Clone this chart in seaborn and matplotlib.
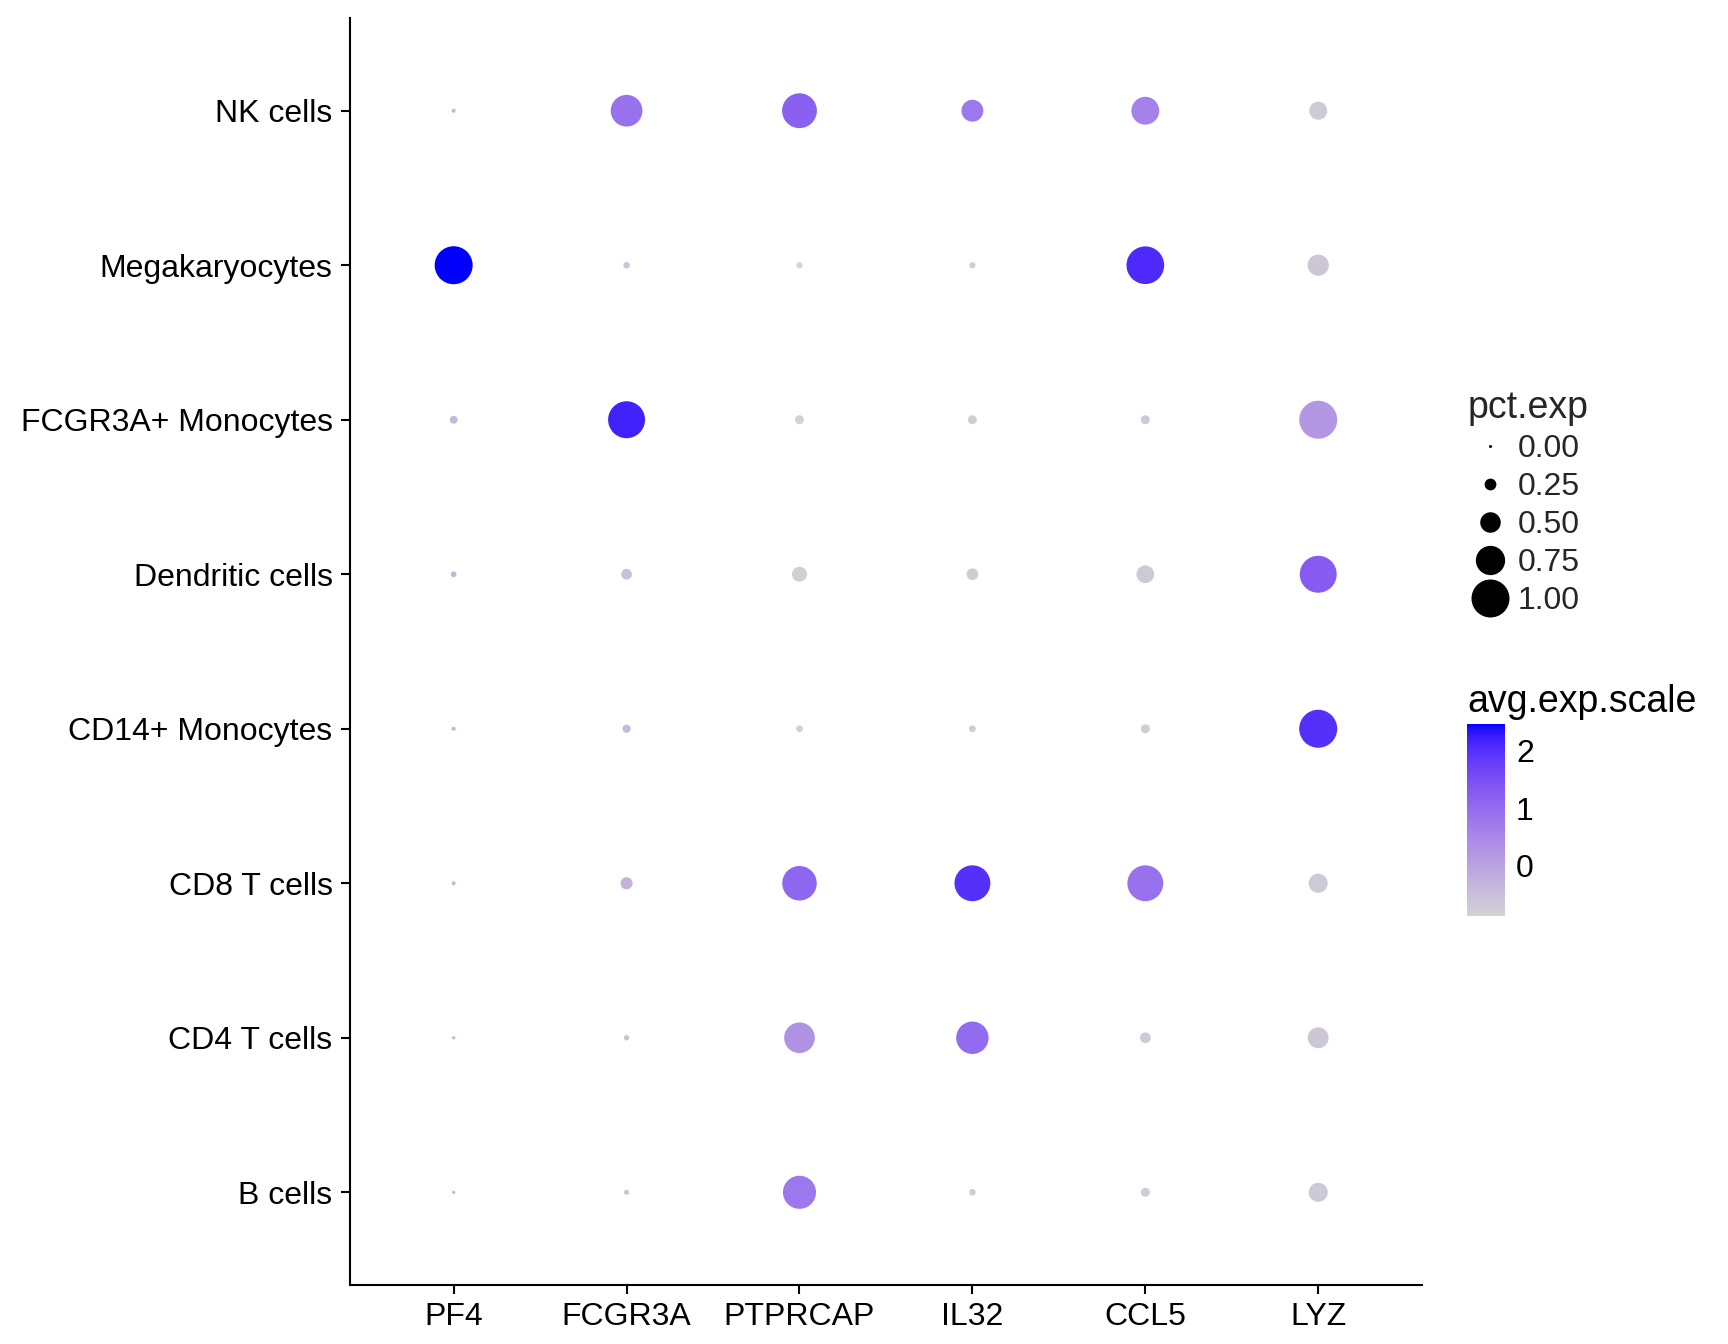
import numpy as np
import pandas as pd
import matplotlib
matplotlib.use("Agg")
import matplotlib.pyplot as plt
from matplotlib.colors import LinearSegmentedColormap, Normalize
from matplotlib.cm import ScalarMappable
from matplotlib.lines import Line2D
import seaborn as sns

# ---------------- data ----------------
genes = ["PF4", "FCGR3A", "PTPRCAP", "IL32", "CCL5", "LYZ"]
cell_types = ["B cells", "CD4 T cells", "CD8 T cells", "CD14+ Monocytes",
              "Dendritic cells", "FCGR3A+ Monocytes", "Megakaryocytes", "NK cells"]

pct_b      = [0.01, 0.06, 0.86, 0.10, 0.17, 0.46]
pct_cd4    = [0.01, 0.07, 0.79, 0.84, 0.22, 0.51]
pct_cd8    = [0.03, 0.26, 0.90, 0.94, 0.94, 0.46]
pct_cd14   = [0.03, 0.15, 0.11, 0.11, 0.17, 1.00]
pct_dc     = [0.08, 0.22, 0.34, 0.25, 0.42, 0.97]
pct_fcgr   = [0.14, 0.97, 0.17, 0.17, 0.17, 1.00]
pct_mega   = [1.00, 0.10, 0.09, 0.09, 0.99, 0.52]
pct_nk     = [0.03, 0.82, 0.91, 0.54, 0.71, 0.43]

exp_b      = [-0.353, -0.60, 0.80, -0.76, -0.75, -0.70]
exp_cd4    = [-0.353, -0.60, 0.30, 1.00, -0.70, -0.65]
exp_cd8    = [-0.353, -0.30, 1.10, 2.00, 0.90, -0.70]
exp_cd14   = [-0.353, -0.45, -0.85, -0.76, -0.75, 2.00]
exp_dc     = [-0.353, -0.55, -0.80, -0.76, -0.70, 1.30]
exp_fcgr   = [-0.353, 2.20, -0.86, -0.76, -0.70, 0.20]
exp_mega   = [2.470, -0.60, -0.89, -0.76, 2.10, -0.65]
exp_nk     = [-0.353, 0.90, 1.20, 0.80, 0.60, -0.70]

pct_rows = [pct_b, pct_cd4, pct_cd8, pct_cd14, pct_dc, pct_fcgr, pct_mega, pct_nk]
exp_rows = [exp_b, exp_cd4, exp_cd8, exp_cd14, exp_dc, exp_fcgr, exp_mega, exp_nk]

size_breaks = [0.00, 0.25, 0.50, 0.75, 1.00]
size_labels = ["0.00", "0.25", "0.50", "0.75", "1.00"]
color_ticks = [0, 1, 2]

recs = []
for ct, prow, erow in zip(cell_types, pct_rows, exp_rows):
    for g, p, e in zip(genes, prow, erow):
        recs.append({"id": ct, "features": g, "pct.exp": p, "avg.exp.scale": e})
df = pd.DataFrame(recs)

# ---------------- colour map (Lab interpolation lightgrey -> blue) ----------------
def srgb_to_lab(rgb):
    rgb = np.asarray(rgb, float)
    lin = np.where(rgb <= 0.04045, rgb / 12.92, ((rgb + 0.055) / 1.055) ** 2.4)
    M = np.array([[0.4124, 0.3576, 0.1805],
                  [0.2126, 0.7152, 0.0722],
                  [0.0193, 0.1192, 0.9505]])
    xyz = M @ lin
    wp = np.array([0.95047, 1.0, 1.08883])
    t = xyz / wp
    f = np.where(t > (6/29) ** 3, np.cbrt(t), t / (3 * (6/29) ** 2) + 4/29)
    return np.array([116 * f[1] - 16, 500 * (f[0] - f[1]), 200 * (f[1] - f[2])])

def lab_to_srgb(lab):
    L, a, b = lab
    fy = (L + 16) / 116
    fx = fy + a / 500
    fz = fy - b / 200
    def finv(f):
        return np.where(f > 6/29, f ** 3, 3 * (6/29) ** 2 * (f - 4/29))
    wp = np.array([0.95047, 1.0, 1.08883])
    xyz = np.array([finv(fx), finv(fy), finv(fz)]) * wp
    Minv = np.array([[3.2406, -1.5372, -0.4986],
                     [-0.9689, 1.8758, 0.0415],
                     [0.0557, -0.2040, 1.0570]])
    lin = Minv @ xyz
    lin = np.clip(lin, 0, 1)
    srgb = np.where(lin <= 0.0031308, 12.92 * lin, 1.055 * lin ** (1/2.4) - 0.055)
    return np.clip(srgb, 0, 1)

lab_lo = srgb_to_lab(np.array([211, 211, 211]) / 255)
lab_hi = srgb_to_lab(np.array([0, 0, 255]) / 255)
cols = [lab_to_srgb(lab_lo + (lab_hi - lab_lo) * t) for t in np.linspace(0, 1, 256)]
cmap = LinearSegmentedColormap.from_list("greyblue", cols)

vmin, vmax = df["avg.exp.scale"].min(), df["avg.exp.scale"].max()

# ---------------- sizes ----------------
DPI = 100
def diam_pt(p):
    return (3.0 + 35.0 * p) * 72.0 / DPI

size_map = {v: diam_pt(v) ** 2 for v in df["pct.exp"].unique()}

# ---------------- figure ----------------
sns.set_theme(style="ticks")
plt.rcParams["font.family"] = ["Liberation Sans", "DejaVu Sans"]

fig = plt.figure(figsize=(17.28, 13.44), dpi=DPI)
ax = fig.add_axes([0.2025, 0.0439, 0.8229 - 0.2025, 0.9866 - 0.0439])

sns.scatterplot(data=df, x="features", y="id", hue="avg.exp.scale", size="pct.exp",
                palette=cmap, hue_norm=(vmin, vmax), sizes=size_map,
                linewidth=0, legend=False, ax=ax)

ax.set_xlim(-0.6, len(genes) - 1 + 0.6)
ax.set_ylim(-0.6, len(cell_types) - 1 + 0.6)
ax.set_xlabel("")
ax.set_ylabel("")
for side in ["top", "right"]:
    ax.spines[side].set_visible(False)
for side in ["left", "bottom"]:
    ax.spines[side].set_linewidth(1.5)
    ax.spines[side].set_color("black")
ax.tick_params(axis="both", length=6.5, width=1.5, color="black", labelsize=23,
               pad=6, labelcolor="black")
ax.grid(False)

# size legend
handles = [Line2D([], [], linestyle="none", marker="o", markersize=diam_pt(v),
                  markerfacecolor="black", markeredgewidth=0) for v in size_breaks]
leg = fig.legend(handles, size_labels, title="pct.exp", loc="upper left",
                 bbox_to_anchor=(1468 / 1728, 1 - 390 / 1344), frameon=False,
                 fontsize=23, title_fontsize=27, borderpad=0, handlelength=1.35,
                 handletextpad=0.2, labelspacing=0.25, alignment="left",
                 borderaxespad=0)

# colour bar
cax = fig.add_axes([1467 / 1728, 1 - 916 / 1344, 38 / 1728, 192 / 1344])
sm = ScalarMappable(norm=Normalize(vmin, vmax), cmap=cmap)
cb = fig.colorbar(sm, cax=cax, ticks=color_ticks)
cb.outline.set_visible(False)
cax.tick_params(which="both", left=True, right=True, direction="in", color="white",
                length=5, width=1, labelsize=23, pad=8)
cax.yaxis.set_ticks_position("both")
cax.yaxis.set_label_position("right")
for lab in cax.get_yticklabels():
    lab.set_color("black")
fig.text(1467 / 1728, 1 - 712 / 1344, "avg.exp.scale", fontsize=27, ha="left",
         va="baseline", color="black")

fig.savefig("out.png", dpi=DPI)
